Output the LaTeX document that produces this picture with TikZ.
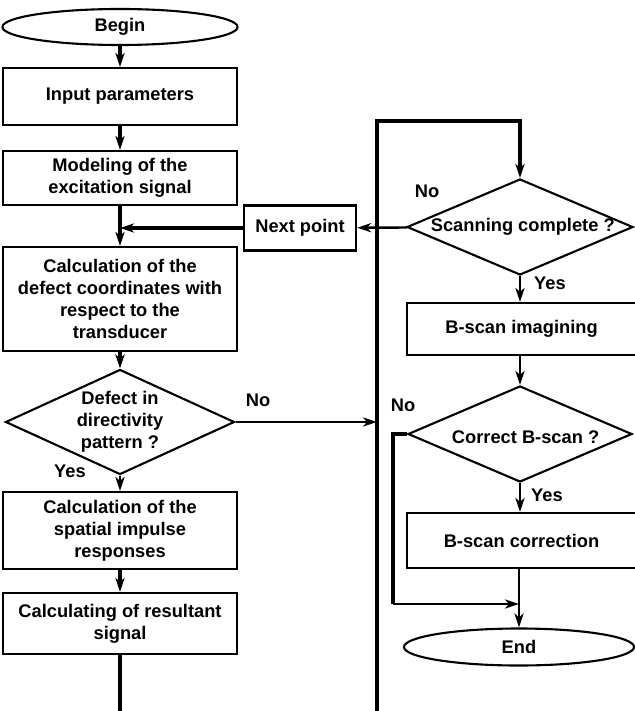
\documentclass[tikz,border=0pt]{standalone}
\usepackage{fontspec}
\setmainfont{Liberation Sans}
\usetikzlibrary{shapes.geometric,arrows.meta}

\begin{document}
\begin{tikzpicture}[x=0.025cm,y=-0.025cm,
    every node/.style={font=\bfseries\fontsize{13}{15.5}\selectfont},
    box/.style={draw,line width=1.5pt,rectangle,align=center,inner sep=0pt},
    term/.style={draw,line width=1.5pt,ellipse,inner sep=0pt},
    cond/.style={draw,line width=1.5pt,diamond,inner sep=0pt},
    flow/.style={line width=2.4pt,-{Stealth[length=10pt,width=6.5pt,inset=3pt]}},
    link/.style={line width=1.7pt,-{Stealth[length=10pt,width=6.5pt,inset=3pt]}},
    trunk/.style={line width=2.4pt}]
    \useasboundingbox (0,0) rectangle (634,711);
    % left column
    \node[term, minimum width=5.875cm, minimum height=0.9cm] (begin) at (120,27) {Begin};
    \node[box, minimum width=5.85cm, minimum height=1.425cm] (input) at (120,96.5) {Input parameters};
    \node[box, minimum width=5.85cm, minimum height=1.35cm] (model) at (120,178) {Modeling of the\\excitation signal};
    \node[box, minimum width=5.85cm, minimum height=2.6cm] (calc) at (120,299) {Calculation of the\\defect coordinates with\\respect to the\\transducer};
    \node[cond, minimum width=5.725cm, minimum height=2.625cm,
          label={[align=center]center:{Defect in\\directivity\\pattern ?}}] (defect) at (120,422) {};
    \node[box, minimum width=5.85cm, minimum height=1.925cm] (spatial) at (120,530.5) {Calculation of the\\spatial impulse\\responses};
    \node[box, minimum width=5.85cm, minimum height=1.525cm] (result) at (120,623.5) {Calculating of resultant\\signal};
    % right column
    \node[box, minimum width=2.8cm, minimum height=1.125cm] (next) at (300,228) {Next point};
    \node[cond, minimum width=5.65cm, minimum height=2.4cm,
          label={[xshift=2pt]center:Scanning complete ?}] (scan) at (520,227) {};
    \node[box, minimum width=5.725cm, minimum height=1.3cm] (imag) at (521.5,329) {B-scan imagining};
    \node[cond, minimum width=5.6cm, minimum height=2.4cm,
          label={[xshift=4pt,yshift=-2pt]center:Correct B-scan ?}] (correct) at (520,434) {};
    \node[box, minimum width=5.725cm, minimum height=1.375cm] (corr) at (521.5,540.5) {B-scan correction};
    \node[term, minimum width=5.75cm, minimum height=0.925cm] (end) at (519,647) {End};
    % answers
    \node (noA) at (258,400) {No};
    \node (yesA) at (70,471) {Yes};
    \node (noB) at (427,191) {No};
    \node (yesB) at (550,283) {Yes};
    \node (noC) at (403,405) {No};
    \node (yesC) at (547,495) {Yes};
    \coordinate (exitL) at (120,711);
    \coordinate (exitR) at (377,711);
    \coordinate (loop) at (377,121);
    \coordinate (bend) at (393,604);
    \coordinate (join) at (519,604);
    \path[flow]
    (begin) edge (input)
    (input) edge (model)
    (model) edge (calc)
    (calc) edge (defect)
    (spatial) edge (result);
    \draw[link] (defect) -- (spatial);
    \draw[link] (defect) -- (defect -| loop);
    \draw[flow] (next) -- (next -| model);
    \draw[trunk] (result) -- (exitL);
    \draw[flow] (exitR) -- (loop) -| (scan);
    \draw[link] (scan) -- (next);
    \draw[link] (scan) -- (imag.north -| scan);
    \draw[link] (imag.south -| correct) -- (correct);
    \draw[link] (correct) -- (corr.north -| correct);
    \draw[trunk] (correct.west) -| (bend);
    \draw[link] (bend) -- (join);
    \draw[link] (corr.south -| end) -- (end);
\end{tikzpicture}
\end{document}
